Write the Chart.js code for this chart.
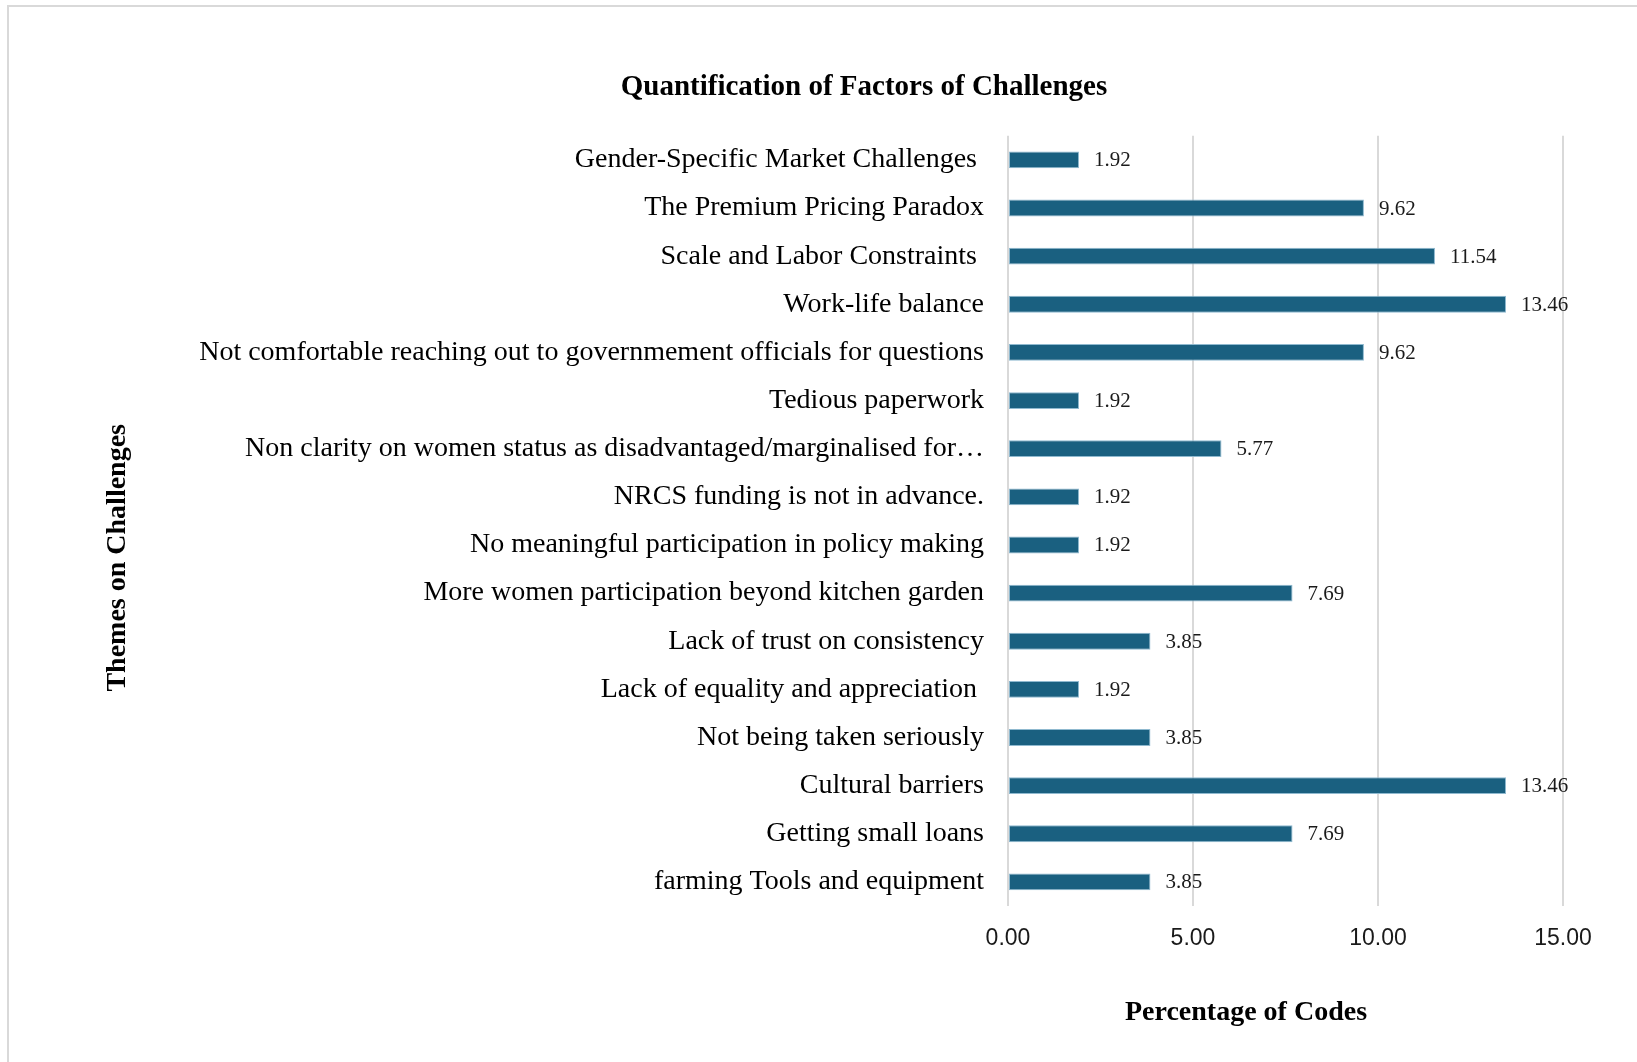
<!DOCTYPE html>
<html>
<head>
<meta charset="utf-8">
<title>Quantification of Factors of Challenges</title>
<script src="https://cdn.jsdelivr.net/npm/chart.js@4.4.1/dist/chart.umd.min.js"></script>
<style>
  html, body { margin: 0; padding: 0; background: #fff; }
  #wrap { position: relative; width: 1637px; height: 1062px; overflow: hidden; }
  #frame {
    position: absolute; left: 7px; top: 5px; width: 1700px; height: 1100px;
    border-left: 2px solid #d9d9d9; border-top: 2px solid #d9d9d9;
  }
  #wrap canvas { position: absolute; left: 0; top: 0; }
</style>
</head>
<body>
<div id="wrap">
  <div id="frame"></div>
  <canvas id="barChart" width="1637" height="1062"></canvas>
</div>
<script>
// ---data---
var themes = [
  "Gender-Specific Market Challenges ",
  "The Premium Pricing Paradox",
  "Scale and Labor Constraints ",
  "Work-life balance",
  "Not comfortable reaching out to governmement officials for questions",
  "Tedious paperwork",
  "Non clarity on women status as disadvantaged/marginalised for\u2026",
  "NRCS funding is not in advance.",
  "No meaningful participation in policy making",
  "More women participation beyond kitchen garden",
  "Lack of trust on consistency",
  "Lack of equality and appreciation ",
  "Not being taken seriously",
  "Cultural barriers",
  "Getting small loans",
  "farming Tools and equipment"
];
var percentOfCodes = [1.92, 9.62, 11.54, 13.46, 9.62, 1.92, 5.77, 1.92, 1.92, 7.69, 3.85, 1.92, 3.85, 13.46, 7.69, 3.85];
var xTicks = [0, 5, 10, 15];

var serif = "'Liberation Serif', 'Times New Roman', serif";
var sans = "'Liberation Sans', Arial, sans-serif";

// ---value labels at the end of each bar---
var barValues = {
  id: "barValues",
  afterDatasetsDraw: function (chart) {
    var ctx = chart.ctx;
    var meta = chart.getDatasetMeta(0);
    ctx.save();
    ctx.font = "21px " + serif;
    ctx.fillStyle = "#1a1a1a";
    ctx.textAlign = "left";
    ctx.textBaseline = "middle";
    meta.data.forEach(function (bar, i) {
      ctx.fillText(percentOfCodes[i].toFixed(2), bar.x + 15, bar.y + 1);
    });
    ctx.restore();
  }
};

// ---axis titles---
var axisTitles = {
  id: "axisTitles",
  afterDraw: function (chart) {
    var ctx = chart.ctx;
    var area = chart.chartArea;
    ctx.save();
    ctx.font = "bold 28px " + serif;
    ctx.fillStyle = "#000";
    ctx.textAlign = "center";
    ctx.textBaseline = "middle";
    ctx.fillText("Percentage of Codes", area.left + 238, area.bottom + 107);
    ctx.translate(118, area.top + 422);
    ctx.rotate(-Math.PI / 2);
    ctx.fillText("Themes on Challenges", 0, 0);
    ctx.restore();
  }
};

var ctxB = document.getElementById("barChart").getContext("2d");
var myBarChart = new Chart(ctxB, {
  type: "bar",
  data: {
    labels: themes,
    datasets: [
      {
        label: "Percentage of Codes",
        data: percentOfCodes,
        backgroundColor: "#1a6080",
        borderColor: "#8fb9cf",
        borderWidth: 1,
        borderSkipped: false,
        barPercentage: 0.35,
        categoryPercentage: 1
      }
    ]
  },
  plugins: [barValues, axisTitles],
  options: {
    indexAxis: "y",
    responsive: false,
    animation: false,
    layout: {
      padding: { left: 165, right: 74, top: 0, bottom: 0 }
    },
    plugins: {
      legend: { display: false },
      tooltip: { enabled: false },
      title: {
        display: true,
        text: "Quantification of Factors of Challenges",
        color: "#000",
        font: { family: serif, size: 29, weight: "bold", lineHeight: 1.2 },
        padding: { top: 70, bottom: 31 }
      }
    },
    scales: {
      x: {
        min: 0,
        max: 15,
        afterBuildTicks: function (scale) {
          scale.ticks = xTicks.map(function (v) { return { value: v }; });
        },
        afterFit: function (scale) {
          scale.height = 156;
        },
        grid: { color: "#d9d9d9", lineWidth: 2, drawTicks: false },
        border: { display: false },
        ticks: {
          padding: 19,
          color: "#1a1a1a",
          font: { family: sans, size: 23 },
          callback: function (v) { return Number(v).toFixed(2); }
        }
      },
      y: {
        afterFit: function (scale) {
          scale.width = 1008 - 165;
        },
        grid: { display: false, drawTicks: false },
        border: { display: false },
        ticks: {
          padding: 24,
          color: "#000",
          autoSkip: false,
          font: { family: serif, size: 28 }
        }
      }
    }
  }
});
</script>
</body>
</html>
